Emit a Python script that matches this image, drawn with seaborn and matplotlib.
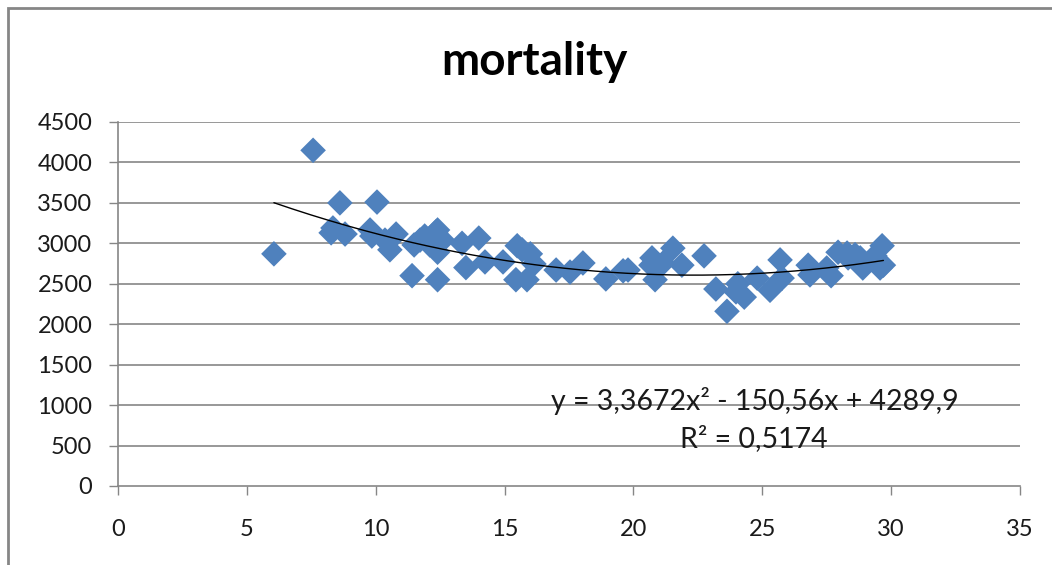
import numpy as np
import pandas as pd
import matplotlib
matplotlib.use("Agg")
import matplotlib.pyplot as plt
import seaborn as sns
from matplotlib.patches import Rectangle

temperature = [6.05, 7.57, 8.61, 8.34, 8.27, 8.81, 9.78, 10.05, 9.85, 10.36,
               10.55, 10.79, 11.41, 11.49, 11.72, 11.90, 12.10, 12.33, 12.40, 12.40,
               12.40, 12.60, 13.35, 13.50, 14.00, 14.24, 14.94, 15.44, 15.49, 15.68,
               15.87, 16.00, 16.14, 17.00, 17.54, 18.04, 18.93, 19.60, 19.79, 20.72,
               20.68, 20.84, 21.15, 21.53, 21.88, 22.74, 23.20, 23.63, 23.98, 24.05,
               24.30, 24.80, 25.30, 25.69, 25.77, 26.78, 26.85, 27.50, 27.67, 27.94,
               28.29, 28.60, 28.33, 28.80, 28.90, 29.37, 29.57, 29.65, 29.70]
mortality = [2870, 4150, 3500, 3190, 3130, 3115, 3165, 3510, 3090, 3040,
             2920, 3115, 2600, 2980, 3040, 3090, 2980, 3140, 3165, 2550,
             2890, 3040, 3000, 2700, 3065, 2770, 2770, 2550, 2970, 2920,
             2550, 2870, 2745, 2670, 2645, 2757, 2560, 2660, 2670, 2820,
             2730, 2550, 2757, 2940, 2730, 2845, 2435, 2160, 2400, 2500,
             2335, 2570, 2420, 2795, 2570, 2730, 2610, 2695, 2600, 2890,
             2880, 2860, 2820, 2820, 2695, 2845, 2695, 2970, 2730]

# Trendline coefficients as shown in the chart label
poly_coefs = [3.3672, -150.56, 4289.9]
equation_text = "y = 3,3672x² - 150,56x + 4289,9"
r2_text = "R² = 0,5174"
title_text = "mortality"
x_ticks = [0, 5, 10, 15, 20, 25, 30, 35]
y_ticks = [0, 500, 1000, 1500, 2000, 2500, 3000, 3500, 4000, 4500]

sns.set_theme(style="white")
plt.rcParams['font.family'] = ['Lato', 'DejaVu Sans']

W, H = 1052, 565
fig = plt.figure(figsize=(W / 100, H / 100), dpi=100)
ax = fig.add_axes([118 / W, 1 - 486 / H, (1020 - 118) / W, (486 - 122) / H])

gray = "#868686"

df = pd.DataFrame({"t": temperature, "m": mortality})
sns.scatterplot(data=df, x="t", y="m", ax=ax, marker="D", s=170,
                color="#4F81BD", edgecolor="none", linewidth=0, zorder=3)

xs = np.linspace(min(temperature), max(temperature), 200)
ys = np.polyval(poly_coefs, xs)
sns.lineplot(x=xs, y=ys, ax=ax, color="black", linewidth=1.0, zorder=4)

ax.set_xlim(0, 35)
ax.set_ylim(0, 4500)
ax.set_xticks(x_ticks)
ax.set_yticks(y_ticks)
ax.set_xticklabels([str(v) for v in x_ticks])
ax.set_yticklabels([str(v) for v in y_ticks])
ax.set_xlabel("")
ax.set_ylabel("")

for y in y_ticks[1:]:
    ax.axhline(y, color=gray, linewidth=1.2, zorder=1)

for side in ["top", "right"]:
    ax.spines[side].set_visible(False)
for side in ["left", "bottom"]:
    ax.spines[side].set_color(gray)
    ax.spines[side].set_linewidth(1.2)

ax.tick_params(axis="both", which="major", direction="out", length=6.5,
               width=1.0, color=gray, labelsize=17, labelcolor="#1a1a1a")
ax.tick_params(axis="y", pad=12)
ax.tick_params(axis="x", pad=17)
ax.yaxis.set_ticks_position("left")
ax.xaxis.set_ticks_position("bottom")

fig.text(534 / W, 1 - 62 / H, title_text, ha="center", va="center",
         fontsize=33, fontweight="bold", color="black")

ax.text(755 / W, 1 - 401 / H, equation_text, transform=fig.transFigure,
        ha="center", va="center", fontsize=20.5, color="#1a1a1a", zorder=5)
ax.text(754 / W, 1 - 439 / H, r2_text, transform=fig.transFigure,
        ha="center", va="center", fontsize=20.5, color="#1a1a1a", zorder=5)

fig.patches.append(Rectangle((8 / W, -0.2), 1.5, (H - 8) / H + 0.2,
                             transform=fig.transFigure, fill=False,
                             edgecolor=gray, linewidth=2.0))

fig.savefig("out.png", dpi=100, facecolor="white")
